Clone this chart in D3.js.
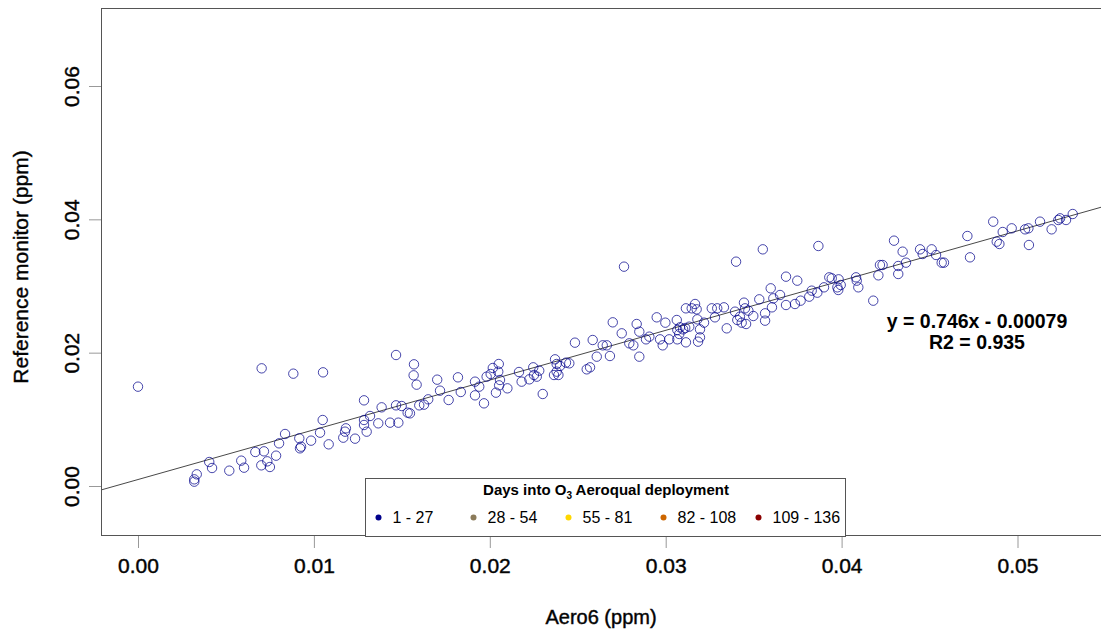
<!DOCTYPE html>
<html lang="en">
<head>
<meta charset="utf-8">
<title>Aero6 vs reference monitor</title>
<script src="https://cdn.jsdelivr.net/npm/d3@7"></script>
<style>
  body { margin: 0; background: #fff; }
  text { font-family: "Liberation Sans", Arial, sans-serif; fill: #000; }
  .heavy { stroke: #111; stroke-width: 0.45px; }
</style>
</head>
<body>
<script>

// Aero6 (x) and reference monitor (y), ppm
var aero6 = [
  0.0000, 0.00703, 0.00883, 0.01052, 0.01467, 0.01285, 0.01385, 0.01467, 0.01319, 0.01285,
  0.01285, 0.01366, 0.01433, 0.0148, 0.013, 0.01234, 0.01167, 0.01177, 0.01182, 0.0105,
  0.01035, 0.01084, 0.00984, 0.00917, 0.00927, 0.00921, 0.00836, 0.00802, 0.00785, 0.0075,
  0.00701, 0.00735, 0.00716, 0.00667, 0.00603, 0.00587, 0.00519, 0.00421, 0.00405, 0.00334,
  0.0032, 0.0032,
  0.01499, 0.01533, 0.01546, 0.01569, 0.01567, 0.01584, 0.01599, 0.01626, 0.0165, 0.01701,
  0.01717, 0.01766, 0.01819, 0.01835, 0.01916, 0.01916, 0.0194, 0.01967, 0.01982, 0.02005,
  0.02017, 0.02051, 0.02048, 0.02058, 0.02035, 0.021, 0.02053, 0.02166, 0.02181, 0.02225,
  0.02247, 0.02251, 0.02267, 0.02281, 0.02301, 0.02371, 0.0238, 0.0238, 0.02365, 0.0239,
  0.02399, 0.02433, 0.02452, 0.02484, 0.02551, 0.0257, 0.02585, 0.02608,
  0.02763, 0.02699, 0.02642, 0.02665, 0.0275, 0.02683, 0.02793, 0.02816, 0.02835, 0.0285,
  0.0285, 0.02888, 0.02907, 0.02949, 0.02968, 0.02983, 0.02998, 0.0302, 0.03063, 0.03066,
  0.03077, 0.03081, 0.03111, 0.03115, 0.03115, 0.03134, 0.03148, 0.03167, 0.03176, 0.0318,
  0.03195, 0.03195, 0.03184, 0.03218, 0.03262, 0.03293, 0.03331, 0.0328, 0.03347, 0.034,
  0.03394, 0.03407, 0.03422, 0.03432, 0.03445, 0.03451, 0.03457, 0.0347, 0.03498, 0.03532,
  0.03552, 0.03565, 0.03565, 0.03597, 0.03604, 0.03612, 0.0365, 0.03684, 0.03684, 0.03735,
  0.03748, 0.03767, 0.03816, 0.0383, 0.03868, 0.03862, 0.039, 0.0393, 0.03944, 0.03976,
  0.03983, 0.03995, 0.03981, 0.04082, 0.04095, 0.04086, 0.0418, 0.04209, 0.04218, 0.04233,
  0.04298, 0.04322, 0.04322, 0.03066, 0.03099,
  0.04347, 0.04366, 0.04446, 0.04461, 0.04512, 0.04537, 0.04569, 0.04582, 0.04715, 0.0473,
  0.04862, 0.04916, 0.04897, 0.04882, 0.04967, 0.05043, 0.05062, 0.05065, 0.05128, 0.05194,
  0.05232, 0.05242, 0.05276, 0.05314
];
var reference = [
  0.0149, 0.01765, 0.01685, 0.01705, 0.01965, 0.01285, 0.0118, 0.0121, 0.0105, 0.0099,
  0.00915, 0.0094, 0.0095, 0.0095, 0.00815, 0.0071, 0.00725, 0.00815, 0.00865, 0.0099,
  0.008, 0.00625, 0.0068, 0.00715, 0.0059, 0.00565, 0.0078, 0.0064, 0.00455, 0.00285,
  0.0031, 0.0037, 0.0052, 0.0051, 0.00275, 0.0038, 0.0023, 0.0027, 0.0036, 0.00175,
  0.001, 0.00065,
  0.012, 0.011, 0.0109, 0.01825, 0.0166, 0.0152, 0.0121, 0.0122, 0.013, 0.01595,
  0.0143, 0.0129, 0.0163, 0.0141, 0.01565, 0.0136, 0.0149, 0.0124, 0.0164, 0.0168,
  0.0177, 0.0183, 0.01715, 0.0159, 0.014, 0.01465, 0.0151, 0.0171, 0.01565, 0.016,
  0.0178, 0.01665, 0.0164, 0.0173, 0.0138, 0.019, 0.0183, 0.01715, 0.01665, 0.01665,
  0.018, 0.0185, 0.0184, 0.0215, 0.0175, 0.0178, 0.0219, 0.0194,
  0.0329, 0.02455, 0.0211, 0.0211, 0.0229, 0.0195, 0.0214, 0.0211, 0.0243, 0.02315,
  0.0194, 0.022, 0.0224, 0.0253, 0.022, 0.0211, 0.0245, 0.022, 0.0249, 0.0234,
  0.0228, 0.0238, 0.0237, 0.02665, 0.02155, 0.0239, 0.02665, 0.0273, 0.0265, 0.025,
  0.0235, 0.0223, 0.02165, 0.0245, 0.02665, 0.02665, 0.0268, 0.0253, 0.02365, 0.03365,
  0.02615, 0.0249, 0.0254, 0.0245, 0.0275, 0.02665, 0.0243, 0.0263, 0.0255, 0.028,
  0.0355, 0.0259, 0.0248, 0.02965, 0.0268, 0.02815, 0.02865, 0.0314, 0.02715, 0.0273,
  0.0308, 0.0278, 0.0284, 0.0293, 0.036, 0.029, 0.0298, 0.0313, 0.03115, 0.0298,
  0.031, 0.03015, 0.0294, 0.0313, 0.0298, 0.0308, 0.0278, 0.0316, 0.03315, 0.03315,
  0.0368, 0.0318, 0.033, 0.022, 0.0235,
  0.03515, 0.0335, 0.0355, 0.0348, 0.0355, 0.03465, 0.0335, 0.0335, 0.0375, 0.0343,
  0.03965, 0.0381, 0.0363, 0.03665, 0.03865, 0.0385, 0.03865, 0.03615, 0.03965, 0.0385,
  0.0399, 0.04015, 0.0399, 0.0408
];

var xTicks = [0, 0.01, 0.02, 0.03, 0.04, 0.05];
var yTicks = [0, 0.02, 0.04, 0.06];

// fitted line as drawn, and the printed equation
var fitLine = [0.746, 0.00097];
var fitText = ["y = 0.746x - 0.00079", "R2 = 0.935"];

var legendLabels = ["1 - 27", "28 - 54", "55 - 81", "82 - 108", "109 - 136"];
var legendColors = ["#00008b", "#8b7b5a", "#ffd700", "#cd6600", "#8b0000"];

var w = 1101, h = 634,
    boxL = 101, boxT = 8, boxR = 1102, boxB = 536;

var svg = d3.select("body").append("svg")
    .attr("width", w)
    .attr("height", h);

var x = d3.scaleLinear().domain([0, 0.05]).range([138, 1017.5]);
var y = d3.scaleLinear().domain([0, 0.06]).range([486, 86]);

svg.append("clipPath").attr("id", "plot-clip")
  .append("rect")
    .attr("x", boxL).attr("y", boxT)
    .attr("width", boxR - boxL).attr("height", boxB - boxT);

// x axis ticks + labels
var xAxis = d3.axisBottom(x).tickValues(xTicks).tickSize(12).tickFormat(d3.format(".2f"));
var gx = svg.append("g").attr("transform", "translate(0," + boxB + ")").call(xAxis);
gx.select(".domain").remove();
gx.selectAll(".tick line").attr("stroke", "#999");
gx.selectAll(".tick text")
    .attr("class", "heavy")
    .attr("y", 37).attr("dy", null)
    .attr("font-size", 21)
    .attr("font-family", "Liberation Sans, Arial, sans-serif")
    .attr("fill", "#111");

// y axis ticks + rotated labels
var yAxis = d3.axisLeft(y).tickValues(yTicks).tickSize(12).tickFormat(d3.format(".2f"));
var gy = svg.append("g").attr("transform", "translate(" + boxL + ",0)").call(yAxis);
gy.select(".domain").remove();
gy.selectAll(".tick line").attr("stroke", "#999");
gy.selectAll(".tick text")
    .attr("class", "heavy")
    .attr("x", null).attr("dy", null)
    .attr("transform", "translate(-22,0) rotate(-90)")
    .attr("text-anchor", "middle")
    .attr("font-size", 21)
    .attr("font-family", "Liberation Sans, Arial, sans-serif")
    .attr("fill", "#111");

// axis titles
svg.append("text")
    .attr("class", "heavy")
    .attr("x", (boxL + w) / 2).attr("y", 624)
    .attr("text-anchor", "middle")
    .attr("font-size", 20)
    .text("Aero6 (ppm)");

svg.append("text")
    .attr("class", "heavy")
    .attr("transform", "translate(28,267) rotate(-90)")
    .attr("text-anchor", "middle")
    .attr("font-size", 21)
    .text("Reference monitor (ppm)");

// regression line
var plot = svg.append("g").attr("clip-path", "url(#plot-clip)");
var x0 = x.invert(boxL), x1 = x.invert(boxR);
plot.append("line")
    .attr("x1", x(x0)).attr("y1", y(fitLine[0] * x0 + fitLine[1]))
    .attr("x2", x(x1)).attr("y2", y(fitLine[0] * x1 + fitLine[1]))
    .attr("stroke", "#333")
    .attr("stroke-width", 0.9);

// points
plot.selectAll("circle.pt")
    .data(d3.range(aero6.length))
    .enter().append("circle")
    .attr("class", "pt")
    .attr("cx", function(i) { return x(aero6[i]); })
    .attr("cy", function(i) { return y(reference[i]); })
    .attr("r", 4.7)
    .attr("fill", "none")
    .attr("stroke", "#00008b")
    .attr("stroke-opacity", 0.72)
    .attr("stroke-width", 1);

// plot box
svg.append("rect")
    .attr("x", boxL + 0.5).attr("y", boxT + 0.5)
    .attr("width", boxR - boxL).attr("height", boxB - boxT - 1)
    .attr("fill", "none")
    .attr("stroke", "#555");

// fit annotation
svg.selectAll("text.fit")
    .data(fitText)
    .enter().append("text")
    .attr("class", "fit")
    .attr("x", 977)
    .attr("y", function(d, i) { return 328 + i * 21; })
    .attr("text-anchor", "middle")
    .attr("font-size", 19.5)
    .attr("font-weight", "bold")
    .text(function(d) { return d; });

// legend
var lg = svg.append("g");
lg.append("rect")
    .attr("x", 365.5).attr("y", 478.5)
    .attr("width", 480).attr("height", boxB - 478)
    .attr("fill", "#fff")
    .attr("stroke", "#555");

var title = lg.append("text")
    .attr("x", 606).attr("y", 495)
    .attr("text-anchor", "middle")
    .attr("font-size", 15)
    .attr("font-weight", "bold");
title.append("tspan").text("Days into O");
title.append("tspan").attr("font-size", 10).attr("dy", 4).text("3");
title.append("tspan").attr("dy", -4).text(" Aeroqual deployment");

var itemX = d3.scalePoint().domain(legendLabels).range([378.5, 758.5]);

var items = lg.selectAll("g.item")
    .data(legendLabels)
    .enter().append("g")
    .attr("class", "item")
    .attr("transform", function(d) { return "translate(" + itemX(d) + ",517.5)"; });

items.append("circle")
    .attr("r", 3)
    .attr("fill", function(d, i) { return legendColors[i]; });

items.append("text")
    .attr("x", 14).attr("y", 5.5)
    .attr("font-size", 16)
    .text(function(d) { return d; });

</script>
</body>
</html>
